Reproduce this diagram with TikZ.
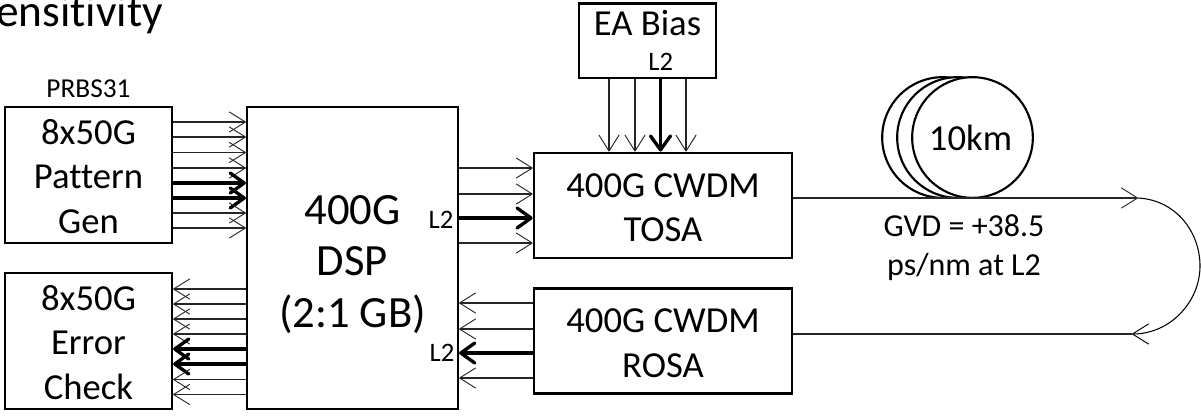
\documentclass[tikz,border=0pt]{standalone}
\usepackage{fontspec}
\setmainfont{Carlito}[Ligatures=NoCommon]
\usetikzlibrary{arrows.meta}
\tikzset{
  x=0.75pt,y=-0.75pt,
  box/.style={draw=black,line width=1.9pt,fill=white,inner sep=0pt,align=center,font=\fontsize{27.5}{33.4}\selectfont},
  thin arrow/.style={draw=black!85,line width=0.85pt,-{Straight Barb[length=12pt,width=15pt,line width=0.7pt,round]}},
  bold arrow/.style={draw=black,line width=2.5pt,-{Straight Barb[length=10.5pt,width=15pt,line width=2.5pt,round]}},
  reel/.style={draw=black,line width=1.6pt,fill=white,circle,minimum size=90.5pt,inner sep=0pt},
  small/.style={font=\fontsize{20}{24}\selectfont,inner sep=0pt},
  label/.style={font=\fontsize{24}{29.3}\selectfont,inner sep=0pt,align=center}
}
\begin{document}
\begin{tikzpicture}
\useasboundingbox (0,0) rectangle (1201,415);
\begin{scope}
\clip (0,0) rectangle (1201,415);
\node[anchor=base west,inner sep=0pt,font=\fontsize{34}{40}\selectfont] (title) at (-4,26) {ensitivity};
\end{scope}
% boxes
\node[box,minimum width=125pt,minimum height=102pt] (pg) at (88.5,175) {\rule{0pt}{21pt}8x50G\\Pattern\\Gen};
\node[box,minimum width=125pt,minimum height=102pt] (ec) at (88.5,341) {\rule{0pt}{21pt}8x50G\\Error\\Check};
\node[box,minimum width=158pt,minimum height=226.5pt,font=\fontsize{33.5}{38.6}\selectfont] (dsp) at (352.5,258) {\rule{0pt}{31pt}400G\\DSP\\(2:1 GB)};
\node[box,minimum width=193.5pt,minimum height=79pt,font=\fontsize{27.5}{32.8}\selectfont] (tosa) at (663,205.5) {\rule{0pt}{21pt}400G CWDM\\TOSA};
\node[box,minimum width=193.5pt,minimum height=79pt] (rosa) at (663,341) {\rule{0pt}{21.5pt}400G CWDM\\ROSA};
\node[box,minimum width=102.5pt,minimum height=56pt,anchor=north,text depth=30pt,text height=23pt] (ea) at (647.5,2) {EA Bias};
\node[small] (l2ea) at (660.7,61.5) {L2};
\node[small,font=\fontsize{20.5}{24}\selectfont] (prbs) at (88.5,89) {PRBS31};
\node[small] (l2a) at (441,220) {L2};
\node[small] (l2b) at (442,353) {L2};
% pattern gen to DSP
\foreach \y/\s in {122/thin arrow,137/thin arrow,152.5/thin arrow,168/thin arrow,183/bold arrow,198/bold arrow,213/thin arrow,228/thin arrow}
  \draw[\s] (pg.east |- 0,\y) -- (dsp.west |- 0,\y);
% DSP to error check
\foreach \y/\s in {289/thin arrow,304/thin arrow,319/thin arrow,334/thin arrow,349/bold arrow,364/bold arrow,379.5/thin arrow,394.5/thin arrow}
  \draw[\s] (dsp.west |- 0,\y) -- (ec.east |- 0,\y);
% DSP to TOSA
\foreach \y/\s in {168/thin arrow,194/thin arrow,218/bold arrow,243/thin arrow}
  \draw[\s] (dsp.east |- 0,\y) -- (tosa.west |- 0,\y);
% ROSA to DSP
\foreach \y/\s in {303/thin arrow,329/thin arrow,353/bold arrow,378/thin arrow}
  \draw[\s] (rosa.west |- 0,\y) -- (dsp.east |- 0,\y);
% EA to TOSA
\foreach \x/\s in {609/thin arrow,635/thin arrow,660.5/bold arrow,686/thin arrow}
  \draw[\s] (\x,0 |- ea.south) -- (\x,0 |- tosa.north);
% fibre reel
\node[reel] (r1) at (942.5,137.5) {};
\node[reel] (r2) at (957.5,137.5) {};
\node[reel,font=\fontsize{27.5}{30}\selectfont] (r3) at (972.5,137.5) {\hspace*{-3pt}10km};
\node[label] (gvd) at (964,248) {GVD = +38.5\\ps/nm at L2};
% fibre
\coordinate (fa) at (1138,198);
\coordinate (fb) at (1132,334);
\draw[thin arrow] (tosa.east |- fa) -- (fa);
\draw[black,line width=0.8pt,-{Straight Barb[length=12pt,width=15pt,line width=0.7pt,round]}] (fa) .. controls (1176,200) and (1200,232) .. (1200,266) .. controls (1200,302) and (1170,334) .. (fb);
\draw[draw=black!85,line width=0.85pt] (fb) -- (rosa.east |- fb);
\end{tikzpicture}
\end{document}
